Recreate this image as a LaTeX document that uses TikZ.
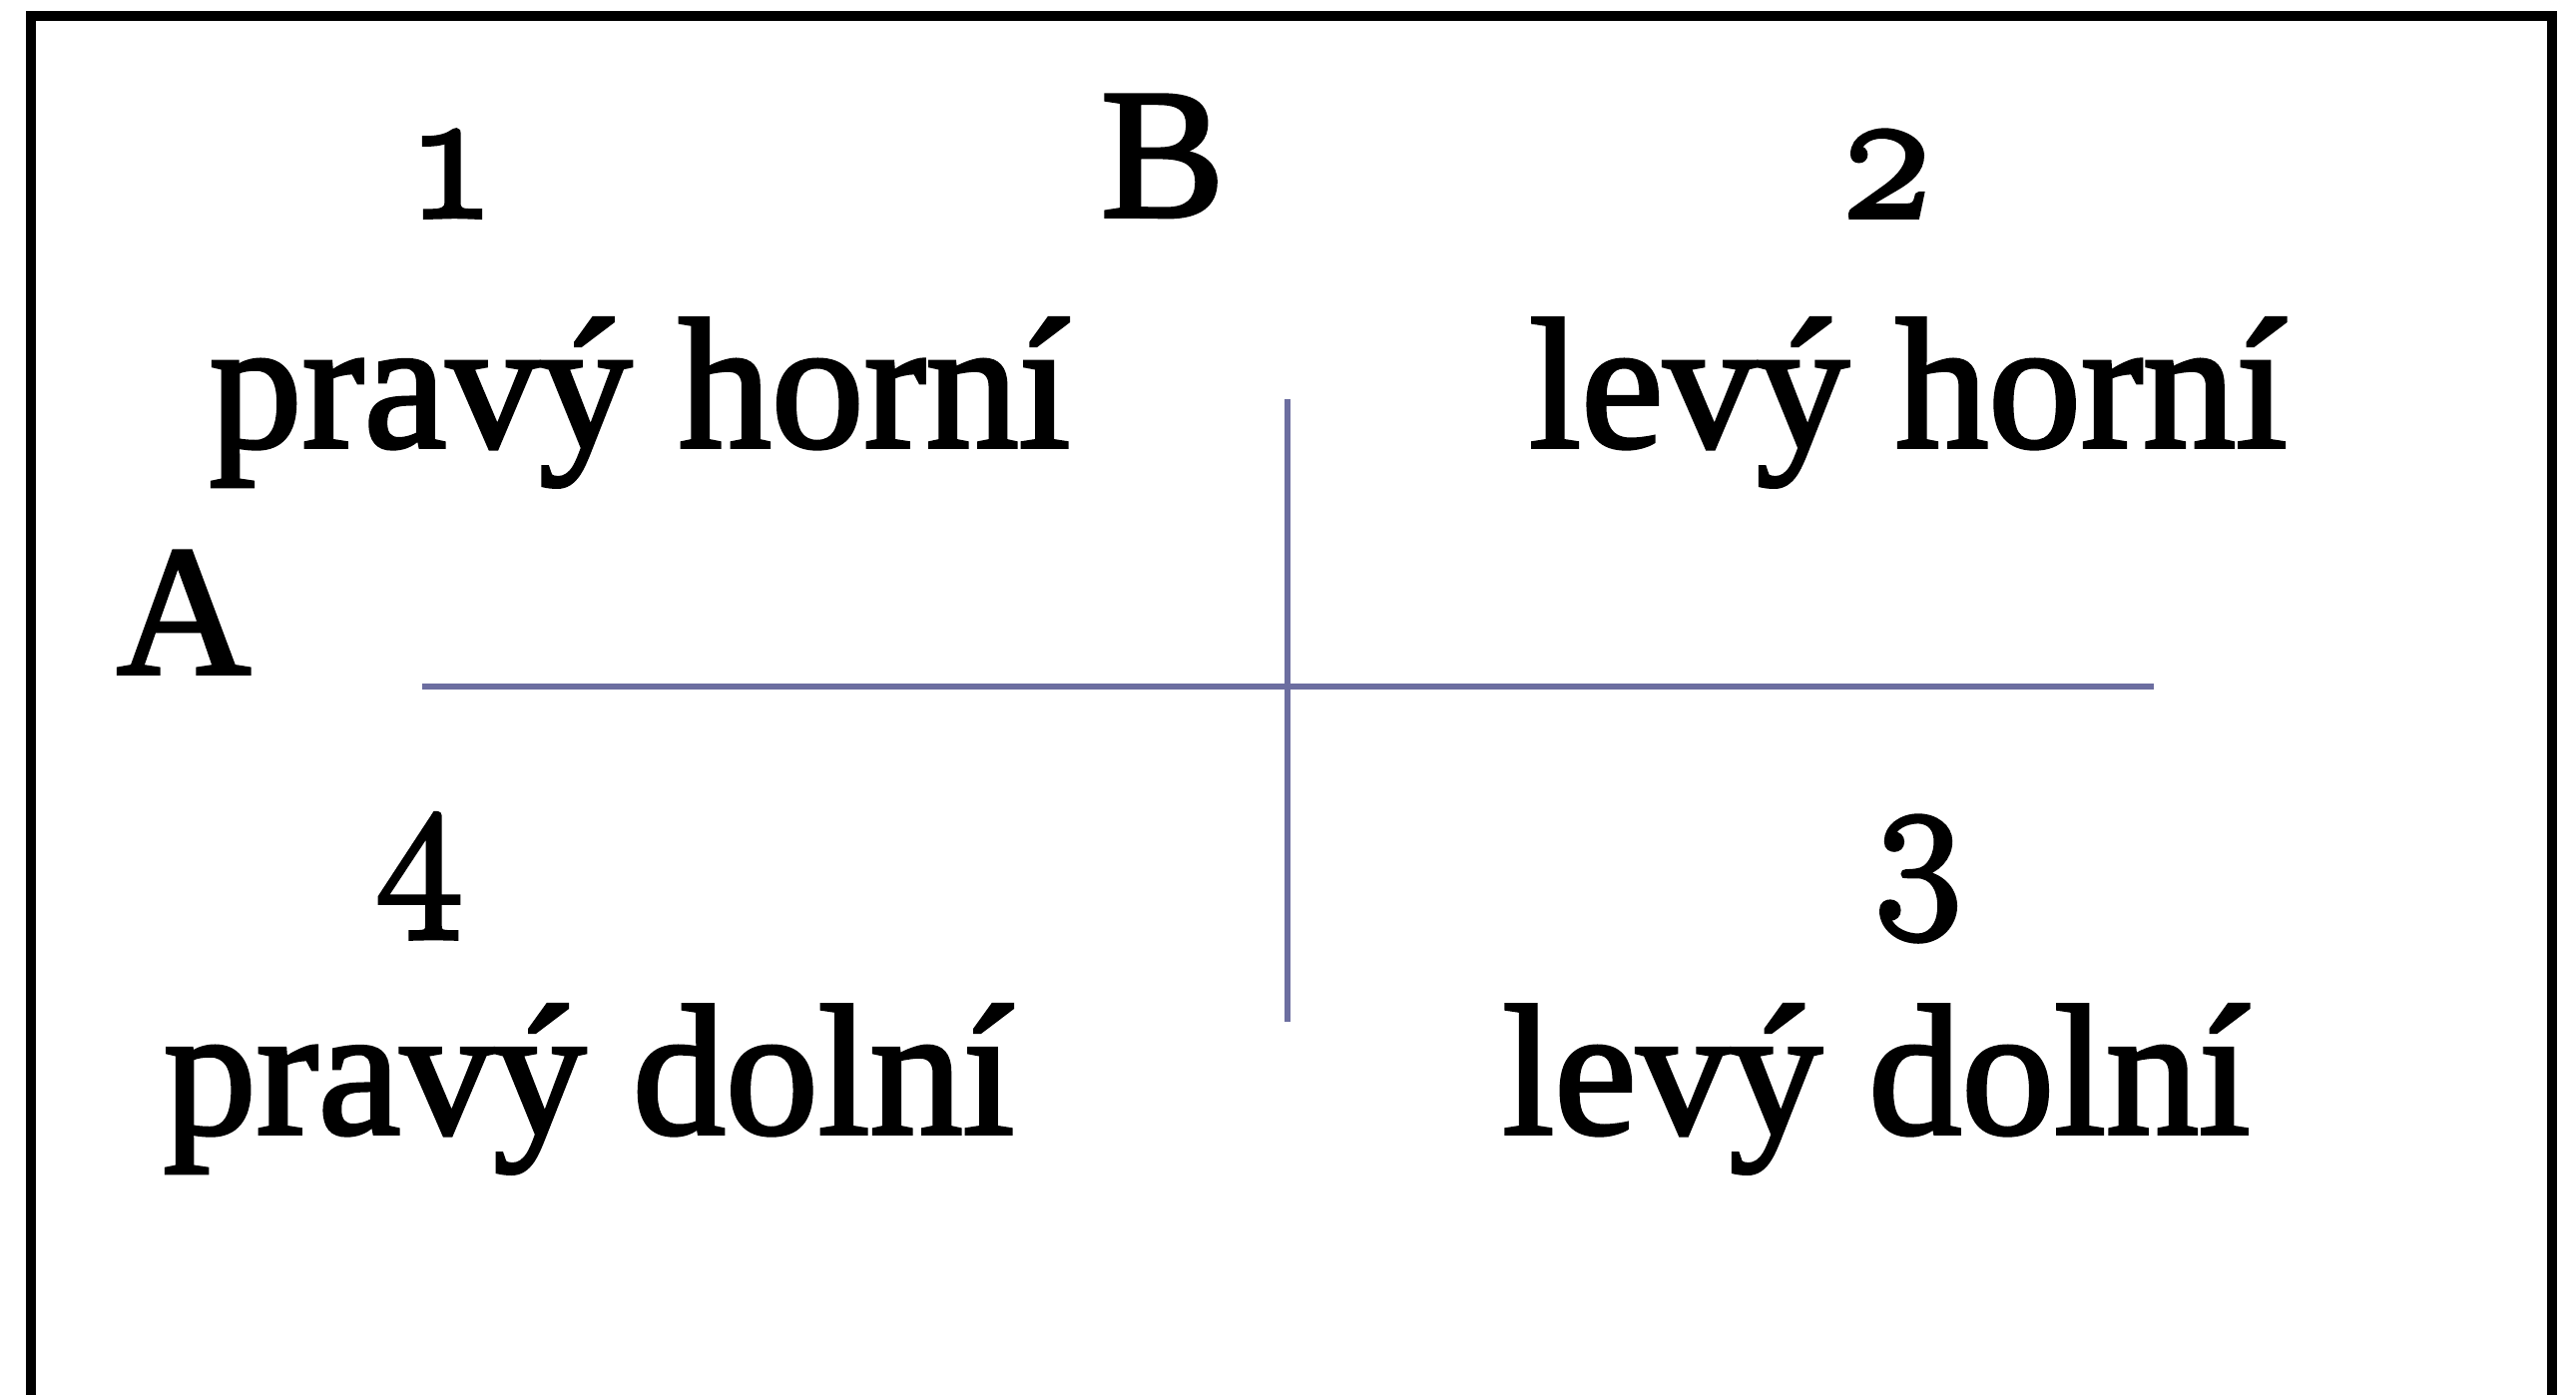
\documentclass[tikz,border=0pt]{standalone}
\usepackage{fontspec}
\setmainfont{Liberation Serif}[FakeBold=2]
\newfontfamily\osfont{Latin Modern Roman}[Numbers=OldStyle,FakeBold=3.2]
\definecolor{axis}{RGB}{108,110,160}
\begin{document}
\begin{tikzpicture}[x=0.25pt,y=-0.25pt,
  lbl/.style={inner sep=0pt,anchor=base,font=\fontsize{46.5}{50}\selectfont},
  num/.style={inner sep=0pt,anchor=base,font=\fontsize{46}{50}\selectfont\osfont},
  axisline/.style={draw=axis,line width=1.6pt},
  frameline/.style={draw=black,line width=2.4pt}]
\useasboundingbox (0,0) rectangle (2581,1398);
\draw[frameline] (31,1398) -- (31,16) -- (2557,16) -- (2557,1398);
% axes
\coordinate (hl) at (423,688);
\coordinate (hr) at (2158,688);
\coordinate (vt) at (1290,400);
\coordinate (vb) at (1290,1024);
\draw[axisline] (hl) -- (hr);
\draw[axisline] (vt) -- (vb);
% labels
\node[num] (n1) at (453,217) {1};
\node[lbl] (B) at (1165,217) {B};
\node[num] (n2) at (1890,217) {2};
\node[lbl] (ph) at (641,448) {pravý horní};
\node[lbl] (lh) at (1912,448) {levý horní};
\node[lbl] (A) at (184,675) {A};
\node[num] (n4) at (420,904) {4};
\node[num] (n3) at (1922,904) {3};
\node[lbl] (pd) at (590,1136) {pravý dolní};
\node[lbl] (ld) at (1880,1136) {levý dolní};
\end{tikzpicture}
\end{document}
